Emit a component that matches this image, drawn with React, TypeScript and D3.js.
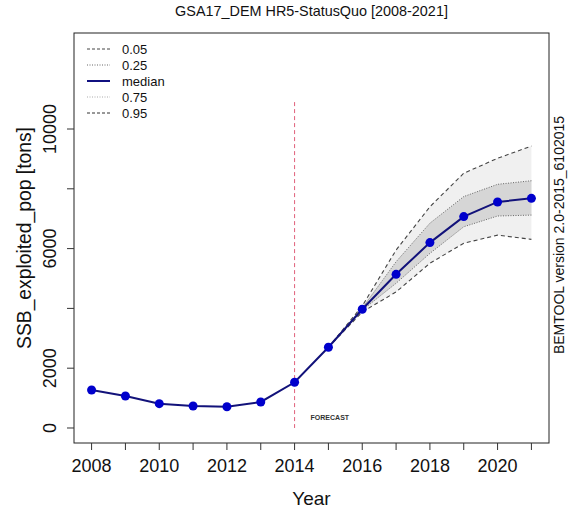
import React from "react";
import * as d3 from "d3";

const years = [2008, 2009, 2010, 2011, 2012, 2013, 2014, 2015, 2016, 2017, 2018, 2019, 2020, 2021];
const median = [1270, 1070, 813, 736, 710, 870, 1528, 2700, 3970, 5140, 6200, 7070, 7560, 7680];
const fanYears = [2015, 2016, 2017, 2018, 2019, 2020, 2021];
const q05 = [2700, 3880, 4550, 5510, 6180, 6450, 6310];
const q25 = [2700, 3940, 4840, 5840, 6730, 7090, 7120];
const q75 = [2700, 4010, 5560, 6850, 7740, 8150, 8270];
const q95 = [2700, 4080, 5950, 7400, 8520, 9020, 9430];
const xTickValues = [2008, 2009, 2010, 2011, 2012, 2013, 2014, 2015, 2016, 2017, 2018, 2019, 2020, 2021];
const xTickLabels = [2008, 2010, 2012, 2014, 2016, 2018, 2020];
const yTickValues = [0, 2000, 4000, 6000, 8000, 10000];
const yTickLabels = [0, 2000, 6000, 10000];
const forecastYear = 2014;
const forecastTop = 10900;
const legendItems = [
  { label: "0.05", dash: "3,2", color: "#444", width: 1 },
  { label: "0.25", dash: "1,1.5", color: "#666", width: 1 },
  { label: "median", dash: "", color: "#101080", width: 2 },
  { label: "0.75", dash: "1,1.5", color: "#aaa", width: 1 },
  { label: "0.95", dash: "3,2", color: "#333", width: 1 },
];

const FONT = "'Liberation Sans', Arial, sans-serif";

export default function App() {
  const W = 568, H = 519;
  const left = 74, right = 549, top = 33, bottom = 443;
  const x = d3.scaleLinear().domain([2007.48, 2021.52]).range([left, right]);
  const y = d3.scaleLinear().domain([-502, 13211]).range([bottom, top]);

  const fan = fanYears.map((yr, i) => ({ yr, a: q05[i], b: q25[i], c: q75[i], d: q95[i] }));
  const outerArea = d3.area<any>().x((d) => x(d.yr)).y0((d) => y(d.a)).y1((d) => y(d.d));
  const innerArea = d3.area<any>().x((d) => x(d.yr)).y0((d) => y(d.b)).y1((d) => y(d.c));
  const qLine = (key: string) => d3.line<any>().x((d) => x(d.yr)).y((d) => y(d[key]))(fan) || "";
  const medData = years.map((yr, i) => ({ yr, v: median[i] }));
  const medLine = d3.line<any>().x((d) => x(d.yr)).y((d) => y(d.v))(medData) || "";

  return (
    <svg width={W} height={H} style={{ position: "absolute", left: 0, top: 0, background: "#fff" }} fontFamily={FONT}>
      <rect x={0} y={0} width={W} height={H} fill="#fff" />
      <text x={(left + right) / 2} y={16} textAnchor="middle" fontSize={14.4} fill="#111">
        GSA17_DEM HR5-StatusQuo [2008-2021]
      </text>

      {/* fan */}
      <path d={outerArea(fan) || ""} fill="#f0f0f0" />
      <path d={innerArea(fan) || ""} fill="#d6d6d6" />
      <path d={qLine("a")} fill="none" stroke="#444" strokeWidth={1.1} strokeDasharray="4,3" />
      <path d={qLine("d")} fill="none" stroke="#444" strokeWidth={1.1} strokeDasharray="4,3" />
      <path d={qLine("b")} fill="none" stroke="#666" strokeWidth={1} strokeDasharray="1,1.5" />
      <path d={qLine("c")} fill="none" stroke="#666" strokeWidth={1} strokeDasharray="1,1.5" />

      {/* forecast line */}
      <line x1={x(forecastYear)} x2={x(forecastYear)} y1={y(forecastTop)} y2={y(0)} stroke="#e0607a" strokeWidth={1} strokeDasharray="4,3" />
      <text x={x(forecastYear) + 16} y={420} fontSize={7} fontWeight="bold" fill="#333">FORECAST</text>

      {/* median */}
      <path d={medLine} fill="none" stroke="#12127a" strokeWidth={2} />
      {medData.map((d) => (
        <circle key={d.yr} cx={x(d.yr)} cy={y(d.v)} r={4.5} fill="#0000cc" />
      ))}

      {/* box */}
      <rect x={left} y={top} width={right - left} height={bottom - top} fill="none" stroke="#222" strokeWidth={1} />

      {/* x axis */}
      {xTickValues.map((t) => (
        <line key={t} x1={x(t)} x2={x(t)} y1={bottom} y2={bottom + 7} stroke="#333" />
      ))}
      {xTickLabels.map((t) => (
        <text key={t} x={x(t)} y={472} textAnchor="middle" fontSize={18} fill="#111">{t}</text>
      ))}
      <text x={(left + right) / 2} y={505} textAnchor="middle" fontSize={19} fill="#111">Year</text>

      {/* y axis */}
      {yTickValues.map((t) => (
        <line key={t} x1={left - 7} x2={left} y1={y(t)} y2={y(t)} stroke="#333" />
      ))}
      {yTickLabels.map((t) => (
        <text key={t} transform={`translate(56,${y(t)}) rotate(-90)`} textAnchor="middle" fontSize={18} fill="#111">{t}</text>
      ))}
      <text transform={`translate(31,${(top + bottom) / 2}) rotate(-90)`} textAnchor="middle" fontSize={19.3} fill="#111">
        SSB_exploited_pop [tons]
      </text>

      {/* right side label */}
      <text transform={`translate(564,${(top + bottom) / 2 - 3}) rotate(-90)`} textAnchor="middle" fontSize={14} fill="#111">
        BEMTOOL version 2.0-2015_6102015
      </text>

      {/* legend */}
      {legendItems.map((it, i) => {
        const ly = 49 + i * 16;
        return (
          <g key={it.label}>
            <line x1={87} x2={110} y1={ly} y2={ly} stroke={it.color} strokeWidth={it.width} strokeDasharray={it.dash || undefined} />
            <text x={122} y={ly + 4.5} fontSize={13} fill="#111">{it.label}</text>
          </g>
        );
      })}
    </svg>
  );
}
